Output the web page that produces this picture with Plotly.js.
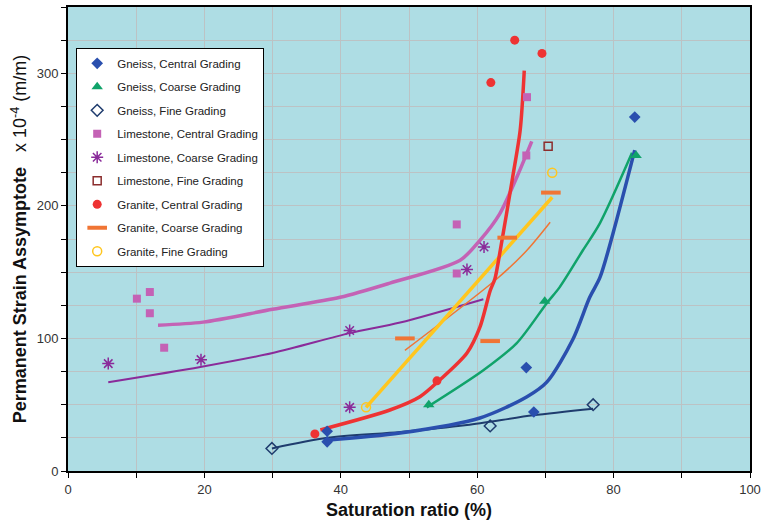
<!DOCTYPE html>
<html><head><meta charset="utf-8">
<script src="https://cdn.plot.ly/plotly-3.0.1.min.js"></script>
<style>body{margin:0;background:#fff}#c{width:766px;height:526px}</style>
</head><body><div id="c"></div>
<script>
// Measured points
const gneissCentralX = [38, 38, 67.2, 68.3, 83.1];
const gneissCentralY = [30, 22, 78, 44.5, 267];
const gneissCoarseX = [52.9, 69.9, 83.3];
const gneissCoarseY = [50, 128, 238];
const gneissFineX = [29.9, 61.9, 77];
const gneissFineY = [17, 34, 50];
const limeCentralX = [10.1, 12, 12, 14.1, 57, 57, 67.2, 67.3];
const limeCentralY = [130, 135, 119, 93, 186, 149, 238, 282];
const limeCoarseX = [5.9, 19.5, 41.3, 41.3, 58.5, 61];
const limeCoarseY = [81, 84, 106, 48, 152, 169];
const limeFineX = [70.4];
const limeFineY = [245];
const graniteCentralX = [36.2, 54.1, 62, 65.5, 69.5];
const graniteCentralY = [28, 68, 293, 325, 315];
const graniteCoarseX = [49.4, 61.9, 64.4, 70.8];
const graniteCoarseY = [100, 98, 176, 210];
const graniteFineX = [43.7, 71];
const graniteFineY = [48, 225];

// Fitted curves
const fitGneissCentralX = [37.5, 48.7, 60.4, 67.3, 70.2, 74, 76.5, 78, 79.9, 83.1];
const fitGneissCentralY = [23, 28.6, 40, 56, 67, 99, 131, 146, 179, 242];
const fitGneissCoarseX = [52.6, 60.9, 65.8, 70.2, 72.1, 75.5, 78, 82.7];
const fitGneissCoarseY = [48, 76, 96.5, 126.6, 138.7, 166.5, 187, 240];
const fitGneissFineX = [29.9, 38, 48.7, 58.5, 68.2, 77];
const fitGneissFineY = [17, 25, 29.4, 34.7, 42, 47];
const fitLimeCentralX = [13.2, 19.8, 30, 39.9, 47.2, 57.5, 60.4, 63.3, 65.8, 68];
const fitLimeCentralY = [110, 112.3, 122, 131, 141.7, 159, 174, 194, 221.6, 248.7];
const fitLimeCoarseX = [5.9, 19.4, 30, 41.3, 48.7, 60.9];
const fitLimeCoarseY = [67, 78.5, 89, 104, 112, 129.6];
const fitGraniteCentralX = [37, 47.2, 51.6, 54.5, 58.5, 60.4, 61.9, 62.6, 63.3, 65.2, 66.3, 66.9];
const fitGraniteCentralY = [31, 46, 56, 68.6, 89, 108.5, 136, 145, 164, 221.6, 257, 302];
const fitGraniteCoarseX = [49.4, 62.9, 67.3, 70.7];
const fitGraniteCoarseY = [91, 145, 166.5, 187.6];
const fitGraniteFineX = [43.7, 71];
const fitGraniteFineY = [48, 206.5];

const C = {
  gc: '#2a4fae', gco: '#10a36a', gf: '#1f3c6e',
  lc: '#c462b5', lco: '#8a2b9a', lf: '#8b2d2d',
  grc: '#ee3333', grco: '#f07534', grf: '#ffc61e'
};

function fit(x, y, color, w) {
  return {x: x, y: y, type: 'scatter', mode: 'lines', line: {color: color, width: w, shape: 'spline', smoothing: 0.8},
    showlegend: false, hoverinfo: 'skip'};
}
function pts(x, y, name, marker, g) {
  return {x: x, y: y, type: 'scatter', mode: 'markers', name: name, marker: marker, legendgroup: g};
}

const data = [
  fit(fitLimeCoarseX, fitLimeCoarseY, C.lco, 2),
  fit(fitLimeCentralX, fitLimeCentralY, C.lc, 3.5),
  fit(fitGraniteCoarseX, fitGraniteCoarseY, C.grco, 1.5),
  fit(fitGraniteFineX, fitGraniteFineY, C.grf, 3.5),
  fit(fitGraniteCentralX, fitGraniteCentralY, C.grc, 3.5),
  fit(fitGneissCoarseX, fitGneissCoarseY, C.gco, 2.5),
  fit(fitGneissFineX, fitGneissFineY, C.gf, 2),
  fit(fitGneissCentralX, fitGneissCentralY, C.gc, 3.5),
  pts(gneissCentralX, gneissCentralY, 'Gneiss, Central Grading', {symbol: 'diamond', size: 9, color: C.gc}, 'a'),
  pts(gneissCoarseX, gneissCoarseY, 'Gneiss, Coarse Grading', {symbol: 'triangle-up', size: 10, color: C.gco}, 'b'),
  pts(gneissFineX, gneissFineY, 'Gneiss, Fine Grading', {symbol: 'diamond-open', size: 9, color: C.gf, line: {width: 1.5}}, 'c'),
  pts(limeCentralX, limeCentralY, 'Limestone, Central Grading', {symbol: 'square', size: 8, color: C.lc}, 'd'),
  pts(limeCoarseX, limeCoarseY, 'Limestone, Coarse Grading', {symbol: 'asterisk-open', size: 10, color: C.lco, line: {width: 1.5, color: C.lco}}, 'e'),
  pts(limeFineX, limeFineY, 'Limestone, Fine Grading', {symbol: 'square-open', size: 8, color: C.lf, line: {width: 1.5}}, 'f'),
  pts(graniteCentralX, graniteCentralY, 'Granite, Central Grading', {symbol: 'circle', size: 9, color: C.grc}, 'g'),
  pts(graniteCoarseX, graniteCoarseY, 'Granite, Coarse Grading', {symbol: 'line-ew-open', size: 14, color: C.grco, line: {width: 4, color: C.grco}}, 'h'),
  pts(graniteFineX, graniteFineY, 'Granite, Fine Grading', {symbol: 'circle-open', size: 9, color: C.grf, line: {width: 1.5}}, 'i')
];

const layout = {
  width: 766, height: 526,
  margin: {l: 68, r: 16, t: 7, b: 55},
  paper_bgcolor: '#ffffff',
  plot_bgcolor: '#aedde4',
  font: {family: 'Liberation Sans, Arial, sans-serif', color: '#222'},
  xaxis: {
    range: [0, 100], dtick: 20, tick0: 0,
    ticks: 'outside', ticklen: 5, tickcolor: '#000',
    showgrid: true, gridcolor: '#bcc2c4', gridwidth: 1,
    minor: {dtick: 10, showgrid: true, gridcolor: '#bcc2c4', ticks: 'outside', ticklen: 5, tickcolor: '#000'},
    showline: true, linecolor: '#000', linewidth: 2, mirror: true,
    zeroline: false,
    tickfont: {size: 13, color: '#333'},
    title: {text: '<b>Saturation ratio (%)</b>', font: {size: 18, color: '#111'}, standoff: 8}
  },
  yaxis: {
    range: [0, 350], dtick: 100, tick0: 0,
    ticks: 'outside', ticklen: 5, tickcolor: '#000',
    showgrid: true, gridcolor: '#bcc2c4', gridwidth: 1,
    minor: {dtick: 25, showgrid: true, gridcolor: '#bcc2c4', ticks: 'outside', ticklen: 5, tickcolor: '#000'},
    showline: true, linecolor: '#000', linewidth: 2, mirror: true,
    zeroline: false,
    tickfont: {size: 13, color: '#333'},
    title: {text: '<b>Permanent Strain Assymptote</b>   x 10<sup>-4</sup> (m/m)', font: {size: 18, color: '#111'}, standoff: 5}
  },
  legend: {
    x: 0.012, y: 0.912, xanchor: 'left', yanchor: 'top',
    bgcolor: '#ffffff', bordercolor: '#000', borderwidth: 1,
    font: {size: 11.5, color: '#222'},
    tracegroupgap: 4.5, itemwidth: 30
  },
  showlegend: true
};

Plotly.newPlot('c', data, layout, {displayModeBar: false, staticPlot: true});
</script>
</body></html>
